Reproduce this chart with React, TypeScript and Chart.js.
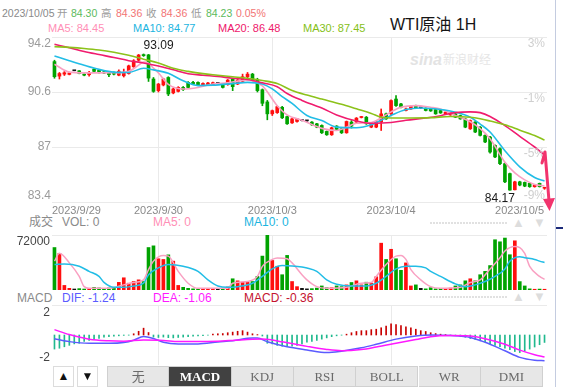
import React, { useEffect, useRef } from "react";
import { Chart, registerables } from "chart.js";

Chart.register(...registerables);

const W = 563;
const H = 387;
const FONT = '"Liberation Sans", Arial, Helvetica, "Noto Sans CJK SC", sans-serif';
const SERIF = '"Liberation Serif", "Times New Roman", "Noto Sans CJK SC", serif';

// ---------------- data ----------------
const N = 100;
const OPEN = [
  92.59, 91.64, 91.77, 91.75, 91.99, 91.99, 91.77, 91.73, 92.1, 92.03,
  91.92, 91.88, 91.86, 91.7, 91.66, 91.81, 92.25, 92.68, 93.05, 93.03,
  91.45, 90.69, 91.06, 91.55, 90.54, 90.64, 90.9, 91.23, 91.23, 91.23,
  91.01, 91.06, 91.08, 91.16, 91.12, 91.08, 91.45, 91.12, 91.3, 91.6,
  91.77, 91.4, 90.75, 89.95, 89.17, 89.25, 89.6, 88.99, 88.58, 88.67,
  88.73, 88.71, 88.63, 88.52, 88.41, 88.02, 87.8, 88.37, 88.19, 87.93,
  88.63, 88.63, 88.93, 88.95, 88.3, 88.3, 88.63, 89.17, 89.17, 90.14,
  89.82, 89.39, 89.49, 89.71, 89.56, 89.54, 89.49, 89.45, 89.39, 89.17,
  89.1, 89.17, 89.06, 88.84, 88.19, 88.63, 88.3, 87.76, 87.65, 87.11,
  86.89, 85.91, 85.26, 84.2, 84.72, 84.68, 84.62, 84.4, 84.62, 84.3,
];
const HIGH = [
  92.68, 91.88, 91.94, 91.9, 91.99, 92.0, 91.79, 91.96, 92.12, 92.05,
  91.95, 91.9, 91.92, 92.05, 92.1, 92.36, 92.72, 93.06, 93.09, 93.06,
  91.55, 91.16, 91.5, 91.6, 90.86, 90.95, 90.96, 91.28, 91.3, 91.27,
  91.2, 91.23, 91.25, 91.18, 91.15, 91.42, 91.5, 91.42, 91.77, 91.88,
  91.82, 91.5, 90.8, 90.05, 89.42, 89.68, 89.66, 89.02, 88.88, 88.88,
  88.76, 88.74, 88.66, 88.55, 88.45, 88.05, 88.3, 88.4, 88.22, 88.7,
  88.73, 88.93, 89.0, 89.0, 88.56, 88.66, 89.49, 89.22, 90.08, 90.36,
  89.86, 89.55, 89.7, 89.74, 89.58, 89.57, 89.52, 89.48, 89.42, 89.31,
  89.26, 89.2, 89.09, 88.88, 88.77, 88.67, 88.34, 87.8, 87.7, 87.15,
  86.95, 85.96, 85.3, 84.76, 84.76, 84.71, 84.65, 84.54, 84.64, 84.36,
];
const LOW = [
  91.5, 91.45, 91.68, 91.72, 91.99, 91.79, 91.66, 91.64, 91.92, 91.84,
  91.8, 91.6, 91.72, 91.66, 91.58, 91.77, 92.21, 92.62, 92.93, 91.29,
  90.58, 90.6, 91.0, 90.36, 90.48, 90.6, 90.7, 90.86, 91.08, 91.04,
  90.98, 91.02, 91.05, 91.14, 90.86, 91.04, 90.69, 91.08, 91.26, 91.51,
  91.34, 90.6, 89.7, 88.78, 89.06, 89.2, 88.86, 88.48, 88.54, 88.62,
  88.7, 88.68, 88.42, 88.26, 87.88, 87.76, 87.76, 88.1, 87.88, 87.9,
  88.24, 88.58, 88.9, 88.48, 88.26, 88.26, 88.08, 88.8, 89.12, 89.66,
  89.56, 89.36, 89.46, 89.52, 89.54, 89.36, 89.33, 89.14, 89.2, 89.14,
  89.07, 88.92, 88.81, 88.26, 88.15, 87.94, 87.72, 87.28, 86.6, 86.3,
  85.85, 84.66, 84.17, 84.19, 84.46, 84.4, 84.36, 84.37, 84.38, 84.23,
];
const CLOSE = [
  91.6, 91.81, 91.86, 91.84, 91.99, 91.81, 91.7, 91.88, 91.95, 91.86,
  91.84, 91.73, 91.77, 91.96, 91.86, 92.31, 92.64, 93.02, 92.98, 91.51,
  90.64, 91.12, 91.45, 90.47, 90.8, 90.9, 90.75, 90.9, 91.12, 91.08,
  91.16, 91.19, 91.21, 91.16, 90.9, 91.38, 90.95, 91.38, 91.6, 91.77,
  91.38, 90.69, 89.86, 89.17, 89.38, 89.64, 88.91, 88.52, 88.84, 88.84,
  88.73, 88.71, 88.45, 88.3, 87.93, 87.8, 88.26, 88.15, 87.93, 88.67,
  88.37, 88.89, 88.96, 88.52, 88.52, 88.63, 89.17, 88.84, 90.04, 89.71,
  89.6, 89.49, 89.67, 89.56, 89.56, 89.39, 89.36, 89.17, 89.23, 89.28,
  89.23, 88.95, 88.84, 88.3, 88.73, 87.98, 87.76, 87.33, 86.67, 86.35,
  85.91, 84.72, 84.18, 84.72, 84.51, 84.44, 84.4, 84.51, 84.4, 84.36,
];

const MA5_X = [0, 3, 6, 9, 12, 15, 17, 18, 19, 20, 21, 23, 26, 29, 32, 35, 39, 42, 45, 47, 50, 54, 57, 59, 61, 64, 66, 68, 70, 73, 76, 78, 81, 84, 86, 88, 90, 91, 93, 95, 97, 99];
const MA5_Y = [92.42, 91.9, 91.85, 91.85, 91.86, 91.95, 92.36, 92.56, 92.49, 92.16, 91.85, 91.1, 90.8, 90.9, 91.12, 91.2, 91.38, 91.0, 89.7, 89.1, 88.75, 88.22, 88.08, 88.3, 88.55, 88.6, 88.9, 89.3, 89.6, 89.71, 89.6, 89.49, 89.06, 88.65, 88.2, 87.54, 86.5, 86.0, 85.3, 84.85, 84.55, 84.45];
const MA10_X = [0, 3, 6, 9, 12, 15, 18, 20, 23, 26, 29, 32, 36, 39, 42, 44, 46, 48, 51, 54, 57, 61, 64, 66, 68, 71, 74, 78, 81, 84, 86, 88, 91, 94, 97, 99];
const MA10_Y = [92.96, 92.65, 92.35, 92.08, 91.9, 91.88, 92.15, 92.05, 91.82, 91.33, 91.02, 91.05, 91.15, 91.23, 91.12, 90.8, 90.3, 89.85, 89.06, 88.73, 88.3, 88.26, 88.45, 88.75, 89.06, 89.45, 89.55, 89.45, 89.28, 88.95, 88.5, 87.98, 86.75, 85.7, 85.0, 84.77];
const MA20_X = [0, 3, 6, 9, 12, 15, 18, 21, 24, 27, 30, 33, 36, 39, 42, 45, 47, 50, 54, 57, 61, 64, 68, 71, 75, 78, 81, 84, 86, 88, 91, 94, 97, 99];
const MA20_Y = [93.72, 93.5, 93.25, 93.05, 92.86, 92.65, 92.5, 92.3, 92.05, 91.8, 91.7, 91.62, 91.5, 91.42, 91.2, 90.95, 90.5, 90.05, 89.55, 89.1, 88.7, 88.55, 88.6, 88.75, 88.9, 89.05, 89.25, 89.3, 89.25, 89.0, 88.4, 87.7, 87.0, 86.48];
const MA30_X = [0, 3, 6, 9, 12, 15, 18, 21, 24, 27, 30, 33, 36, 39, 42, 45, 48, 51, 54, 58, 61, 64, 66, 68, 72, 76, 80, 84, 86, 88, 91, 94, 97, 99];
const MA30_Y = [93.57, 93.52, 93.45, 93.35, 93.2, 93.0, 92.75, 92.5, 92.15, 91.95, 91.8, 91.7, 91.6, 91.5, 91.35, 91.15, 90.7, 90.4, 90.14, 89.8, 89.5, 89.2, 88.95, 88.9, 88.9, 88.92, 89.0, 88.95, 88.85, 88.7, 88.45, 88.1, 87.75, 87.45];

const VOL = [
  55600, 48000, 6000, 2200, 1300, 1800, 1300, 1800, 3500, 2700,
  1800, 2700, 3500, 10000, 16000, 8900, 11100, 13300, 11100, 55600,
  57800, 40900, 40000, 46000, 37800, 6000, 3500, 2200, 1500, 1200,
  1000, 1500, 1000, 1300, 2000, 4000, 14700, 12000, 10200, 10200,
  11100, 17800, 44400, 72000, 38700, 31100, 20000, 45300, 11100, 4400,
  2200, 1500, 1800, 2500, 5300, 3000, 3000, 5300, 4400, 6700,
  9800, 12000, 6700, 10200, 8900, 17300, 61300, 40000, 53300, 40900,
  25800, 35500, 5300, 6700, 2200, 1500, 3000, 1500, 2200, 1800,
  2500, 5300, 6700, 12000, 14700, 12000, 20000, 24400, 32000, 65800,
  63100, 68000, 46200, 64400, 11000, 5300, 1500, 1000, 1200, 1000,
];
const VMA5_X = [0, 1, 3, 5, 6, 7, 11, 14, 16, 18, 19, 20, 22, 23, 25, 27, 29, 35, 36, 39, 41, 42, 44, 45, 47, 48, 50, 51, 53, 55, 59, 62, 64, 65, 67, 69, 70, 71, 72, 74, 76, 78, 82, 84, 86, 88, 90, 91, 93, 94, 95, 96, 98, 99];
const VMA5_Y = [37800, 48000, 35500, 17800, 4400, 2200, 2200, 6700, 9800, 13300, 26700, 37800, 45300, 44400, 24400, 8900, 2200, 2200, 8900, 11100, 17800, 31000, 40000, 42000, 40900, 35500, 20000, 13300, 4400, 2200, 3500, 8900, 9800, 17800, 33300, 44400, 45300, 40000, 26700, 13300, 4400, 2200, 3500, 9800, 13300, 27600, 42200, 51100, 56900, 55600, 48000, 31000, 17800, 14000];
const VMA10_X = [0, 2, 5, 7, 9, 10, 12, 14, 16, 18, 19, 21, 23, 26, 29, 31, 33, 35, 37, 40, 42, 44, 46, 48, 50, 51, 53, 55, 57, 60, 63, 65, 67, 69, 71, 73, 75, 76, 78, 81, 83, 85, 87, 89, 91, 92, 94, 95, 97, 98, 99];
const VMA10_Y = [33300, 34000, 31100, 24400, 17800, 10000, 3500, 3500, 5300, 8900, 20000, 28900, 33300, 31100, 24400, 13300, 5300, 3500, 4400, 8900, 17800, 27600, 32000, 31500, 30200, 28900, 24400, 13300, 7500, 5300, 5300, 8900, 17800, 27600, 31100, 31100, 28900, 24400, 17800, 8000, 4400, 6700, 11100, 17800, 27600, 37800, 43500, 42200, 40000, 37800, 36000];

const MACD_HIST = [
  -0.68, -0.64, -0.57, -0.5, -0.43, -0.4, -0.31, -0.26, -0.21, -0.17,
  -0.11, -0.08, -0.06, -0.04, -0.02, -0.01, 0.06, 0.18, 0.33, 0.12,
  -0.1, -0.12, -0.1, -0.13, -0.14, -0.12, -0.1, -0.08, -0.06, -0.04,
  -0.03, -0.01, 0.04, 0.06, 0.07, 0.11, 0.14, 0.18, 0.21, 0.14,
  0.06, 0.02, -0.05, -0.4, -0.43, -0.5, -0.54, -0.57, -0.54, -0.5,
  -0.43, -0.35, -0.31, -0.26, -0.2, -0.14, -0.08, -0.04, -0.01, 0.04,
  0.11, 0.17, 0.21, 0.21, 0.26, 0.28, 0.35, 0.43, 0.54, 0.5,
  0.45, 0.4, 0.35, 0.28, 0.21, 0.17, 0.11, 0.07, 0.04, 0.02,
  -0.01, -0.03, -0.07, -0.11, -0.17, -0.21, -0.28, -0.35, -0.43, -0.5,
  -0.57, -0.64, -0.71, -0.8, -0.85, -0.78, -0.68, -0.58, -0.47, -0.36,
];
const DIF_X = [0, 3, 7, 11, 14, 16, 18, 20, 22, 25, 29, 33, 36, 40, 41, 43, 47, 51, 55, 58, 62, 65, 69, 73, 76, 80, 84, 87, 91, 94, 97, 99];
const DIF_Y = [-0.18, -0.32, -0.4, -0.4, -0.36, -0.25, -0.07, -0.17, -0.35, -0.43, -0.43, -0.34, -0.28, -0.15, -0.15, -0.33, -0.57, -0.72, -0.85, -0.78, -0.62, -0.45, -0.2, -0.05, 0.0, -0.03, -0.12, -0.35, -0.76, -1.08, -1.22, -1.24];
const DEA_X = [0, 3, 7, 11, 14, 18, 22, 25, 29, 33, 36, 40, 42, 44, 46, 51, 55, 58, 62, 65, 69, 73, 76, 80, 84, 87, 91, 94, 97, 99];
const DEA_Y = [0.26, 0.02, -0.2, -0.28, -0.3, -0.24, -0.26, -0.32, -0.32, -0.3, -0.26, -0.2, -0.19, -0.24, -0.33, -0.55, -0.7, -0.76, -0.7, -0.58, -0.4, -0.22, -0.08, -0.03, -0.05, -0.18, -0.45, -0.73, -0.95, -1.06];

const DATE_LABELS = ["2023/9/29", "2023/9/30", "2023/10/3", "2023/10/4", "2023/10/5"];
const DATE_INDEX = [0, 21, 44, 68, 99];
const GRID_INDEX = [21, 44, 68];
const PRICE_TICKS = [94.2, 90.6, 87, 83.4];
const PCT_LABELS = ["3%", "-1%", "-5%", "-9%"];
const VOL_MAX = 72000;
const MACD_TOP_LABEL = "2";
const MACD_BOTTOM_LABEL = "-2";
const MACD_RANGE = 1.45;

const TABS = ["无", "MACD", "KDJ", "RSI", "BOLL", "WR", "DMI"];
const ACTIVE_TAB = "MACD";

// ---------------- style ----------------
const UP = "#ff0f0f";
const DOWN = "#00a300";
const FLAT = "#111111";
const C_MA5 = "#f9a0c2";
const C_MA10 = "#22bde6";
const C_MA20 = "#f01c6e";
const C_MA30 = "#8cc21a";
const C_DIF = "#5b5bff";
const C_DEA = "#ff19ff";
const C_HIST_UP = "#c80000";
const C_HIST_DN = "#20b98e";
const GRID = "#eaeaea";
const ARROW = "#f2336d";

const PLOT_LEFT = 52;
const PLOT_RIGHT = 547;

const pts = (xs: number[], ys: number[]) => xs.map((x, i) => ({ x, y: ys[i] }));
const candleColors = CLOSE.map((c, i) => (c > OPEN[i] ? UP : c < OPEN[i] ? DOWN : FLAT));

function frame(top: number, bottom: number, yMin: number, yMax: number, yGrid: number[]) {
  return {
    responsive: false,
    animation: false,
    events: [],
    layout: { padding: { left: PLOT_LEFT, right: W - PLOT_RIGHT, top, bottom: H - bottom } },
    plugins: { legend: { display: false }, tooltip: { enabled: false } },
    scales: {
      x: {
        type: "linear",
        min: -0.5,
        max: N - 0.5,
        offset: false,
        afterBuildTicks: (s: any) => {
          s.ticks = GRID_INDEX.map((v) => ({ value: v }));
        },
        afterFit: (s: any) => {
          s.height = 0;
        },
        ticks: { display: false },
        grid: { color: GRID, drawTicks: false, offset: false },
        border: { display: false },
      },
      y: {
        type: "linear",
        min: yMin,
        max: yMax,
        afterBuildTicks: (s: any) => {
          s.ticks = yGrid.map((v) => ({ value: v }));
        },
        afterFit: (s: any) => {
          s.width = 0;
        },
        ticks: { display: false },
        grid: { color: GRID, drawTicks: false },
        border: { display: false },
      },
    },
  };
}

const line = (data: any[], color: string, width = 1.6) => ({
  type: "line",
  data,
  borderColor: color,
  borderWidth: width,
  pointRadius: 0,
  fill: false,
  cubicInterpolationMode: "monotone",
  order: 0,
});

const mainText = {
  id: "mainText",
  afterDatasetsDraw(chart: any) {
    const { ctx, chartArea: a, scales } = chart;
    const xs = scales.x;
    const ys = scales.y;
    ctx.save();
    ctx.font = `12px ${FONT}`;
    ctx.fillStyle = "#9b9b9b";
    ctx.textAlign = "right";
    PRICE_TICKS.forEach((v, k) => {
      const py = ys.getPixelForValue(v);
      if (k === 0) {
        ctx.textBaseline = "top";
        ctx.fillText(String(v), a.left - 1, py + 1);
      } else if (k === PRICE_TICKS.length - 1) {
        ctx.textBaseline = "bottom";
        ctx.fillText(String(v), a.left - 1, py);
      } else {
        ctx.textBaseline = "middle";
        ctx.fillText(String(v), a.left - 1, py);
      }
    });
    ctx.fillStyle = "#cfcfcf";
    PRICE_TICKS.forEach((v, k) => {
      const py = ys.getPixelForValue(v);
      if (k === PRICE_TICKS.length - 1) {
        ctx.textBaseline = "bottom";
        ctx.fillText(PCT_LABELS[k], a.right - 2, py);
      } else {
        ctx.textBaseline = "top";
        ctx.fillText(PCT_LABELS[k], a.right - 2, py + 1);
      }
    });
    ctx.font = `11px ${FONT}`;
    ctx.fillStyle = "#8a8a8a";
    ctx.textBaseline = "middle";
    DATE_LABELS.forEach((t, k) => {
      const px = xs.getPixelForValue(DATE_INDEX[k]);
      if (k === 0) {
        ctx.textAlign = "left";
        ctx.fillText(t, a.left, a.bottom + 9);
      } else if (k === DATE_LABELS.length - 1) {
        ctx.textAlign = "right";
        ctx.fillText(t, a.right - 3, a.bottom + 9);
      } else {
        ctx.textAlign = "center";
        ctx.fillText(t, px, a.bottom + 9);
      }
    });
    const hi = Math.max(...HIGH);
    const lo = Math.min(...LOW);
    const hiI = HIGH.indexOf(hi);
    const loI = LOW.indexOf(lo);
    ctx.font = `12px ${FONT}`;
    ctx.fillStyle = "#1a1a1a";
    ctx.textAlign = "left";
    ctx.textBaseline = "bottom";
    ctx.fillText(hi.toFixed(2), xs.getPixelForValue(hiI), ys.getPixelForValue(hi) - 2);
    ctx.textAlign = "right";
    ctx.textBaseline = "top";
    ctx.fillText(lo.toFixed(2), xs.getPixelForValue(loI) + 5, ys.getPixelForValue(lo) + 2);
    const tx = a.right - 2;
    const ty = ys.getPixelForValue(MA20_Y[MA20_Y.length - 1]) - 3;
    const bx = a.right + 2;
    const by = a.bottom + 7;
    ctx.strokeStyle = ARROW;
    ctx.fillStyle = ARROW;
    ctx.lineWidth = 3;
    ctx.lineCap = "round";
    ctx.lineJoin = "round";
    ctx.beginPath();
    ctx.moveTo(tx - 3, ty + 11);
    ctx.lineTo(tx, ty);
    ctx.lineTo(bx, by - 8);
    ctx.stroke();
    ctx.beginPath();
    ctx.moveTo(bx + 0.5, by + 2);
    ctx.lineTo(bx - 6, by - 10);
    ctx.lineTo(bx + 6, by - 11);
    ctx.closePath();
    ctx.fill();
    ctx.restore();
  },
};

const volText = {
  id: "volText",
  afterDatasetsDraw(chart: any) {
    const { ctx, chartArea: a } = chart;
    ctx.save();
    ctx.font = `12px ${FONT}`;
    ctx.fillStyle = "#444";
    ctx.textAlign = "right";
    ctx.textBaseline = "top";
    ctx.fillText(String(VOL_MAX), a.left - 2, a.top + 1);
    ctx.restore();
  },
};

const macdText = {
  id: "macdText",
  afterDatasetsDraw(chart: any) {
    const { ctx, chartArea: a } = chart;
    ctx.save();
    ctx.font = `12px ${FONT}`;
    ctx.fillStyle = "#444";
    ctx.textAlign = "right";
    ctx.textBaseline = "top";
    ctx.fillText(MACD_TOP_LABEL, a.left - 2, a.top + 2);
    ctx.textBaseline = "bottom";
    ctx.fillText(MACD_BOTTOM_LABEL, a.left - 2, a.bottom - 1);
    ctx.restore();
  },
};

function Txt(props: { s: string; x: number; cy: number; color: string; size?: number; family?: string; bold?: boolean }) {
  const size = props.size ?? 12;
  return (
    <div
      style={{
        position: "absolute",
        left: props.x,
        top: props.cy - 10,
        height: 20,
        lineHeight: "20px",
        fontSize: size,
        color: props.color,
        whiteSpace: "nowrap",
        fontFamily: props.family ?? FONT,
        fontWeight: props.bold ? "bold" : "normal",
      }}
    >
      {props.s}
    </div>
  );
}

function PanelTools({ cy }: { cy: number }) {
  return (
    <>
      <div
        style={{
          position: "absolute",
          left: 430,
          top: cy - 3,
          width: 78,
          height: 6,
          backgroundImage:
            "linear-gradient(#fff 0 2px, transparent 2px 4px, #fff 4px 6px), repeating-linear-gradient(90deg, #dedede 0 2px, transparent 2px 3px)",
          opacity: 0.9,
        }}
      />
      <div style={{ position: "absolute", left: 512, top: cy - 8, fontSize: 13, lineHeight: "16px", color: "#dddddd", fontFamily: FONT }}>▲</div>
      <div style={{ position: "absolute", left: 533, top: cy - 8, fontSize: 13, lineHeight: "16px", color: "#dddddd", fontFamily: FONT }}>▼</div>
    </>
  );
}

export default function App() {
  const r1 = useRef<HTMLCanvasElement>(null);
  const r2 = useRef<HTMLCanvasElement>(null);
  const r3 = useRef<HTMLCanvasElement>(null);

  useEffect(() => {
    const mainCfg: any = {
      type: "bar",
      data: {
        datasets: [
          line(pts(MA30_X, MA30_Y), C_MA30),
          line(pts(MA20_X, MA20_Y), C_MA20),
          line(pts(MA10_X, MA10_Y), C_MA10),
          line(pts(MA5_X, MA5_Y), C_MA5),
          {
            type: "bar",
            data: OPEN.map((o, i) => ({ x: i, y: [o, CLOSE[i]] })),
            backgroundColor: candleColors,
            barThickness: 3,
            grouped: false,
            minBarLength: 1,
            order: 2,
          },
          {
            type: "bar",
            data: HIGH.map((h, i) => ({ x: i, y: [LOW[i], h] })),
            backgroundColor: candleColors,
            barThickness: 1,
            grouped: false,
            order: 3,
          },
        ],
      },
      options: frame(37, 202, PRICE_TICKS[PRICE_TICKS.length - 1], PRICE_TICKS[0], PRICE_TICKS),
      plugins: [mainText],
    };
    const volCfg: any = {
      type: "bar",
      data: {
        datasets: [
          line(pts(VMA10_X, VMA10_Y), C_MA10, 1.5),
          line(pts(VMA5_X, VMA5_Y), C_MA5, 1.5),
          {
            type: "bar",
            data: VOL.map((v, i) => ({ x: i, y: v })),
            backgroundColor: candleColors,
            barThickness: 3,
            grouped: false,
            order: 2,
          },
        ],
      },
      options: frame(235, 290, 0, VOL_MAX, [VOL_MAX]),
      plugins: [volText],
    };
    const macdCfg: any = {
      type: "bar",
      data: {
        datasets: [
          line(pts(DEA_X, DEA_Y), C_DEA, 1.5),
          line(pts(DIF_X, DIF_Y), C_DIF, 1.5),
          {
            type: "bar",
            data: MACD_HIST.map((v, i) => ({ x: i, y: v })),
            backgroundColor: MACD_HIST.map((v) => (v >= 0 ? C_HIST_UP : C_HIST_DN)),
            barThickness: 1,
            grouped: false,
            order: 2,
          },
        ],
      },
      options: frame(305, 365, -MACD_RANGE, MACD_RANGE, [MACD_RANGE]),
      plugins: [macdText],
    };
    const c1 = new Chart(r1.current as HTMLCanvasElement, mainCfg);
    const c2 = new Chart(r2.current as HTMLCanvasElement, volCfg);
    const c3 = new Chart(r3.current as HTMLCanvasElement, macdCfg);
    return () => {
      c1.destroy();
      c2.destroy();
      c3.destroy();
    };
  }, []);

  const canvasStyle: React.CSSProperties = { position: "absolute", left: 0, top: 0, width: W, height: H };
  const tabW = 62.3;

  return (
    <div style={{ position: "absolute", left: 0, top: 0, width: W, height: H, background: "#fff", overflow: "hidden", fontFamily: FONT }}>
      {/* header row 1 */}
      <Txt s="2023/10/05" x={2} cy={13} color="#8a8a8a" size={10.5} />
      <Txt s="开" x={57} cy={13} color="#9a9a9a" size={10.5} />
      <Txt s="84.30" x={71} cy={13} color="#5cba5c" size={10.5} />
      <Txt s="高" x={101} cy={13} color="#9a9a9a" size={10.5} />
      <Txt s="84.36" x={116} cy={13} color="#f27474" size={10.5} />
      <Txt s="收" x={146} cy={13} color="#9a9a9a" size={10.5} />
      <Txt s="84.36" x={161} cy={13} color="#f27474" size={10.5} />
      <Txt s="低" x={191} cy={13} color="#9a9a9a" size={10.5} />
      <Txt s="84.23" x={206} cy={13} color="#5cba5c" size={10.5} />
      <Txt s="0.05%" x={236} cy={13} color="#f27474" size={10.5} />
      {/* header row 2 */}
      <Txt s="MA5: 84.45" x={48} cy={27.5} color="#ff8fb6" size={11} />
      <Txt s="MA10: 84.77" x={133} cy={27.5} color="#1cb5df" size={11} />
      <Txt s="MA20: 86.48" x={218} cy={27.5} color="#ee176b" size={11} />
      <Txt s="MA30: 87.45" x={303} cy={27.5} color="#85bf18" size={11} />
      <Txt s="WTI原油 1H" x={390} cy={25} color="#151515" size={16} />

      {/* watermark */}
      <div style={{ position: "absolute", left: 410, top: 50, fontSize: 16, fontStyle: "italic", fontWeight: "bold", color: "#e3e3e3", fontFamily: FONT, lineHeight: "20px" }}>sina</div>
      <div style={{ position: "absolute", left: 443, top: 52, fontSize: 12, color: "#e6e6e6", fontFamily: FONT, lineHeight: "16px" }}>新浪财经</div>

      {/* volume header */}
      <Txt s="成交" x={29} cy={222} color="#8a8a8a" />
      <Txt s="VOL: 0" x={62} cy={222} color="#8a8a8a" />
      <Txt s="MA5: 0" x={153} cy={222} color="#ff8fb6" />
      <Txt s="MA10: 0" x={244} cy={222} color="#1cb5df" />
      <PanelTools cy={223} />

      {/* macd header */}
      <Txt s="MACD" x={17} cy={297.5} color="#8a8a8a" />
      <Txt s="DIF: -1.24" x={62} cy={297.5} color={C_DIF} />
      <Txt s="DEA: -1.06" x={153} cy={297.5} color={C_DEA} />
      <Txt s="MACD: -0.36" x={244} cy={297.5} color="#c4122f" />
      <PanelTools cy={297} />

      {/* right strip */}
      <div style={{ position: "absolute", left: 555, top: 0, width: 1, height: H, background: "#c4cce0" }} />
      <div style={{ position: "absolute", left: 556, top: 227, width: 7, height: 2, background: "#1b2a7a" }} />

      <canvas ref={r1} width={W} height={H} style={canvasStyle} />
      <canvas ref={r2} width={W} height={H} style={canvasStyle} />
      <canvas ref={r3} width={W} height={H} style={canvasStyle} />

      {/* bottom buttons and tabs */}
      <div style={{ position: "absolute", left: 53, top: 366, width: 21, height: 21, boxSizing: "border-box", border: "1px solid #dcdcdc", background: "#fff", textAlign: "center", lineHeight: "19px", fontSize: 12, color: "#111" }}>▲</div>
      <div style={{ position: "absolute", left: 77, top: 366, width: 21, height: 21, boxSizing: "border-box", border: "1px solid #dcdcdc", background: "#fff", textAlign: "center", lineHeight: "19px", fontSize: 12, color: "#111" }}>▼</div>
      {TABS.map((t, k) => {
        const active = t === ACTIVE_TAB;
        return (
          <div
            key={t}
            style={{
              position: "absolute",
              left: 107 + k * tabW,
              top: 366,
              width: tabW,
              height: 21,
              boxSizing: "border-box",
              border: "1px solid #d0d0d0",
              borderLeft: k === 0 ? "1px solid #d0d0d0" : "none",
              background: active ? "#414141" : "#e7e7e7",
              color: active ? "#ffffff" : "#6a6a6a",
              fontWeight: active ? "bold" : "normal",
              fontFamily: SERIF,
              fontSize: 13,
              textAlign: "center",
              lineHeight: "20px",
            }}
          >
            {t}
          </div>
        );
      })}
    </div>
  );
}
